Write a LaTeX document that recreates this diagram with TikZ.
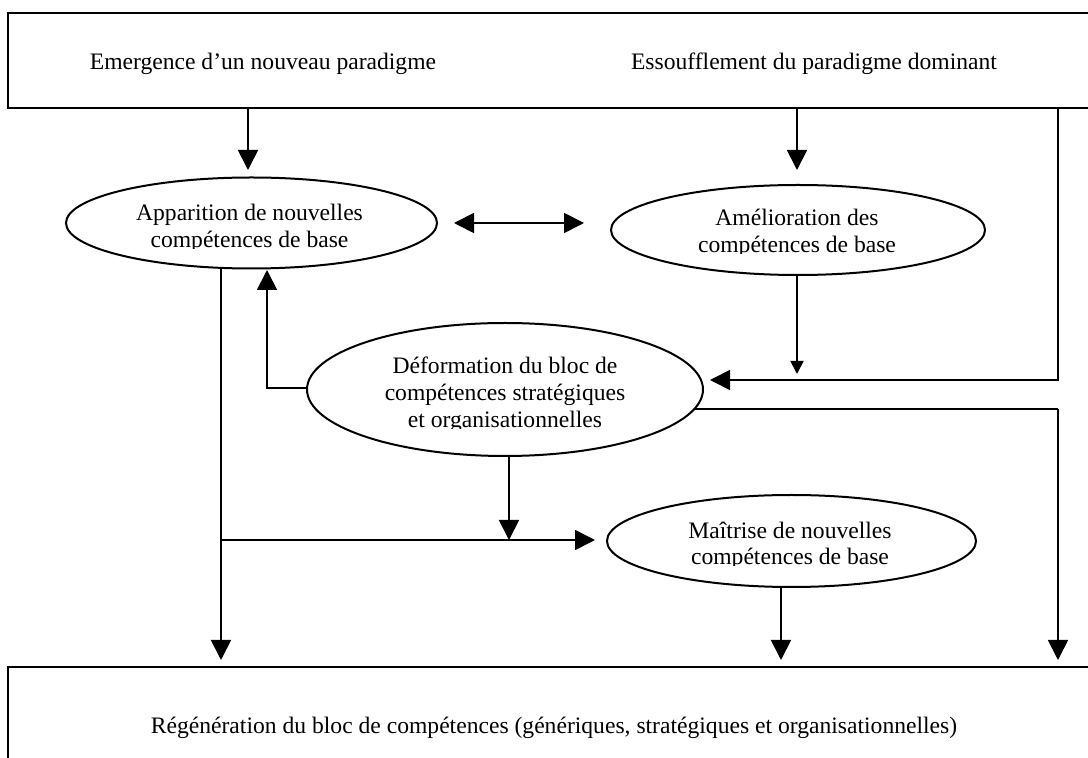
\documentclass[tikz,border=0pt]{standalone}
\usepackage{fontspec}
\setmainfont{Liberation Serif}
\usetikzlibrary{shapes.geometric,arrows.meta}
\begin{document}
\begin{tikzpicture}[x=0.5pt,y=-0.5pt,
  font=\fontsize{11.8}{13.5}\selectfont,
  frame/.style={draw,rectangle,line width=1.2pt,inner sep=0pt},
  oval/.style={draw,ellipse,line width=1pt,inner sep=0pt},
  lbl/.style={anchor=base,inner sep=0pt},
  link/.style={line width=0.9pt},
  arr/.style={link,-{Triangle[length=10pt,width=10pt]}},
  arrsmall/.style={link,-{Triangle[length=6.5pt,width=6.5pt]}},
  dbl/.style={link,{Triangle[length=10pt,width=10pt]}-{Triangle[length=10pt,width=10pt]}}]
\path[use as bounding box,clip] (0,0) rectangle (1088,758);
\fill[white] (0,0) rectangle (1088,758);

% outer boxes (they run past the right and lower edges)
\node[frame,minimum width=544pt,minimum height=47.5pt] (top) at (552,60.5) {};
\node[lbl] (emerg) at (263,70) {Emergence d’un nouveau paradigme};
\node[lbl] (essouf) at (814,70) {Essoufflement du paradigme dominant};

\node[frame,minimum width=544pt,minimum height=60pt] (bottom) at (552,727) {};
\node[lbl] (regen) at (554,734) {Régénération du bloc de compétences (génériques, stratégiques et organisationnelles)};

% ellipses
\node[oval,minimum width=185.5pt,minimum height=45.5pt] (appar) at (251.5,223) {};
\node[oval,minimum width=187pt,minimum height=45pt] (amelio) at (798,230) {};
\node[oval,minimum width=198pt,minimum height=66.5pt] (deform) at (505,389.5) {};
\node[oval,minimum width=184.5pt,minimum height=46pt] (maitr) at (791.5,541) {};

% ellipse texts, cut off at the baseline of their last line
\begin{scope}
  \clip (60,150) rectangle (440,248.5);
  \node[lbl] (apparA) at (249.5,221) {Apparition de nouvelles};
  \node[lbl] (apparB) at (249.5,248) {compétences de base};
\end{scope}
\begin{scope}
  \clip (600,150) rectangle (990,253.5);
  \node[lbl] (amelioA) at (797,226) {Amélioration des};
  \node[lbl] (amelioB) at (797,253) {compétences de base};
\end{scope}
\begin{scope}
  \clip (300,320) rectangle (710,428.5);
  \node[lbl] (deformA) at (505,374) {Déformation du bloc de};
  \node[lbl] (deformB) at (505,401) {compétences stratégiques};
  \node[lbl] (deformC) at (505,428) {et organisationnelles};
\end{scope}
\begin{scope}
  \clip (600,480) rectangle (980,565.5);
  \node[lbl] (maitrA) at (790,539) {Maîtrise de nouvelles};
  \node[lbl] (maitrB) at (790,565) {compétences de base};
\end{scope}

% corner and tip points of the connectors
\coordinate (tipA) at (248,170);
\coordinate (tipB) at (797,170);
\coordinate (rightUp) at (1058,380);
\coordinate (tipD) at (710,380);
\coordinate (tipS) at (797,374);
\coordinate (rightLow) at (1058,409);
\coordinate (leftUp) at (267,388);
\coordinate (tipU) at (267,270);
\coordinate (downL) at (221,660);
\coordinate (branch) at (221,540);
\coordinate (tipM) at (595,540);
\coordinate (tipC) at (509,540);
\coordinate (downM) at (781,660);
\coordinate (downR) at (1058,660);
\coordinate (dblL) at (454,223);
\coordinate (dblR) at (584,223);

% connectors
\draw[arr] (top.south -| tipA) -- (tipA);
\draw[arr] (top.south -| tipB) -- (tipB);
\draw[arr] (top.south -| rightUp) -- (rightUp) -- (tipD);
\draw[dbl] (dblL) -- (dblR);
\draw[arrsmall] (amelio.south -| tipS) -- (tipS);
\draw[arr] (deform.west |- leftUp) -- (leftUp) -- (tipU);
\draw[link] (deform.-6 |- rightLow) -- (rightLow);
\draw[arr] (rightLow) -- (downR);
\draw[arr] (appar.south -| downL) -- (downL);
\draw[arr] (branch) -- (tipM);
\draw[arr] (deform.south -| tipC) -- (tipC);
\draw[arr] (maitr.south -| downM) -- (downM);
\end{tikzpicture}
\end{document}
